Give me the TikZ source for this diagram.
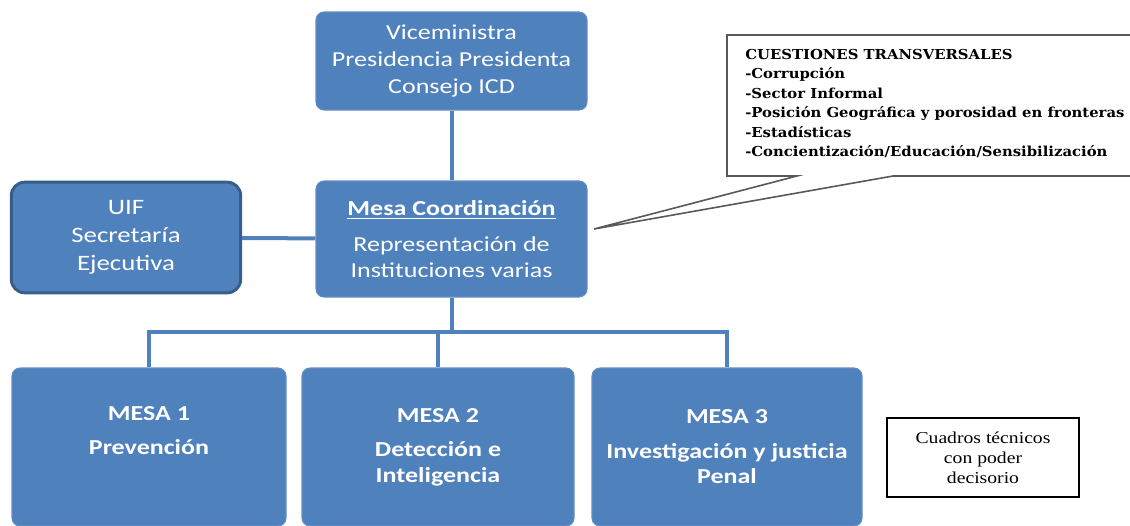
\documentclass[tikz,border=0pt]{standalone}
\usepackage{fontspec}
\usepackage{xcolor}
\setmainfont{Carlito}[FakeStretch=1.22]
\newfontfamily\calloutfont{DejaVu Serif}[FakeStretch=1.08]
\newfontfamily\notefont{Liberation Serif}[FakeStretch=1.18]
\definecolor{officeblue}{HTML}{4F81BD}
\definecolor{rimblue}{HTML}{385D8A}

\begin{document}
\begin{tikzpicture}[x=0.75pt, y=-0.75pt,
  box/.style={draw=officeblue!90!white, fill=officeblue, rounded corners=6pt,
    text=white, align=center, line width=0.8pt},
  mesabox/.style={box, font=\fontsize{16}{19}\selectfont\bfseries,
    minimum height=118.5pt},
  link/.style={draw=officeblue, line width=3pt}]
  % Fix the page to the reference size
  \useasboundingbox (0,0) rectangle (1130,525);

  % Draw the top boxes
  \node[box, minimum width=203.25pt, minimum height=73.5pt,
    font=\fontsize{16}{20}\selectfont] (vice) at (451.5,61)
    {Viceministra\\Presidencia Presidenta\\Consejo ICD};
  \node[box, minimum width=203.25pt, minimum height=87pt,
    font=\fontsize{16}{19.5}\selectfont] (coord) at (451.5,239)
    {\textbf{\underline{Mesa Coordinación}}\\[7pt]Representación de\\Instituciones varias};
  \node[box, draw=rimblue, line width=2.2pt, rounded corners=10pt,
    minimum width=172pt, minimum height=83pt,
    font=\fontsize{16.5}{21}\selectfont] (uif) at (126,237.5)
    {UIF\\Secretaría\\Ejecutiva};

  % Draw the three mesas
  \node[mesabox, minimum width=205.5pt] (mesa1) at (149,447)
    {MESA 1\\[7pt]Prevención\\[6pt]\mbox{}};
  \node[mesabox, minimum width=204pt] (mesa2) at (438,447)
    {MESA 2\\[7pt]Detección e\\Inteligencia};
  \node[mesabox, minimum width=202.5pt] (mesa3) at (727,447)
    {MESA 3\\[7pt]Investigación y justicia\\Penal};

  % Connect them
  \coordinate (bus) at (451.5,332);
  \draw[link] (vice) -- (coord);
  \draw[link] (uif) -- (coord);
  \draw[link] (coord) -- (bus);
  \draw[link] (mesa1) |- (bus);
  \draw[link] (mesa2) |- (bus);
  \draw[link] (mesa3) |- (bus);

  % Callout with the transversal issues
  \coordinate (tip) at (594,229);
  \draw[gray!70!black, line width=1.2pt, fill=white]
    (797,176) -- (tip) -- (893,176) -- (1145,176) -- (1145,35)
    -- (727,35) -- (727,176) -- cycle;
  \node[anchor=north west, align=left, inner sep=0pt,
    font=\calloutfont\fontsize{10.3}{14.6}\selectfont\bfseries] (issues) at (745,49)
    {CUESTIONES TRANSVERSALES\\-Corrupción\\-Sector Informal\\
     -Posición Geográfica y porosidad en fronteras\\-Estadísticas\\
     -Concientización/Educación/Sensibilización};

  % Legend box
  \node[draw=black, line width=1pt, fill=white, align=center,
    minimum width=144pt, minimum height=59.25pt,
    font=\notefont\fontsize{12.5}{15}\selectfont] (note) at (983,457.5)
    {Cuadros técnicos\\con poder\\decisorio};
\end{tikzpicture}
\end{document}
